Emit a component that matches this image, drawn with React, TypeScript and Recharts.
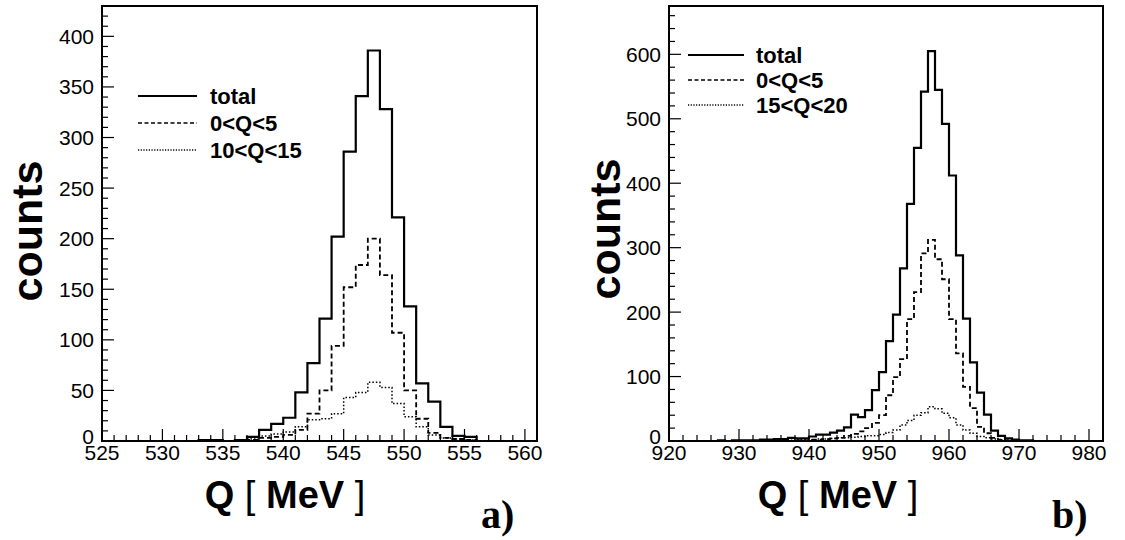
import React from 'react';
import { LineChart, Line, XAxis, YAxis, ReferenceArea } from 'recharts';

// ---------- Panel a) : eta ----------
const etaEdges = [525, 526, 527, 528, 529, 530, 531, 532, 533, 534, 535, 536, 537, 538, 539, 540, 541, 542, 543, 544, 545, 546, 547, 548, 549, 550, 551, 552, 553, 554, 555, 556, 557, 558, 559, 560];
const etaTotal = [0, 0, 0, 0, 0, 0, 0, 0, 1, 1, 0, 1, 4, 11, 17, 23, 48, 77, 121, 202, 286, 341, 386, 328, 221, 133, 57, 39, 14, 5, 4, 0, 0, 0, 0, 0];
const etaLow = [0, 0, 0, 0, 0, 0, 0, 0, 0, 0, 0, 0, 1, 3, 4, 6, 11, 27, 50, 94, 152, 174, 200, 164, 107, 50, 22, 8, 3, 2, 1, 0, 0, 0, 0, 0];
const etaMid = [0, 0, 0, 0, 0, 0, 0, 0, 0, 0, 0, 1, 2, 5, 7, 9, 14, 21, 22, 27, 43, 48, 58, 53, 37, 24, 14, 6, 3, 2, 1, 0, 0, 0, 0, 0];
const etaXTicks = [525, 526, 527, 528, 529, 530, 531, 532, 533, 534, 535, 536, 537, 538, 539, 540, 541, 542, 543, 544, 545, 546, 547, 548, 549, 550, 551, 552, 553, 554, 555, 556, 557, 558, 559, 560];
const etaYTicks = [0, 10, 20, 30, 40, 50, 60, 70, 80, 90, 100, 110, 120, 130, 140, 150, 160, 170, 180, 190, 200, 210, 220, 230, 240, 250, 260, 270, 280, 290, 300, 310, 320, 330, 340, 350, 360, 370, 380, 390, 400, 410, 420];
const etaLegend = ['total', '0<Q<5', '10<Q<15'];

// ---------- Panel b) : eta' ----------
const etapEdges = [920, 921, 922, 923, 924, 925, 926, 927, 928, 929, 930, 931, 932, 933, 934, 935, 936, 937, 938, 939, 940, 941, 942, 943, 944, 945, 946, 947, 948, 949, 950, 951, 952, 953, 954, 955, 956, 957, 958, 959, 960, 961, 962, 963, 964, 965, 966, 967, 968, 969, 970, 971, 972, 973, 974, 975, 976, 977, 978, 979, 980, 981];
const etapTotal = [0, 0, 0, 0, 0, 0, 0, 1, 0, 1, 1, 1, 1, 2, 2, 3, 3, 5, 4, 4, 7, 10, 10, 13, 16, 21, 41, 37, 48, 79, 107, 155, 196, 268, 368, 455, 542, 605, 545, 492, 412, 288, 190, 122, 75, 41, 16, 8, 4, 2, 1, 1, 0, 0, 0, 0, 0, 0, 0, 0, 0, 0];
const etapLow = [0, 0, 0, 0, 0, 0, 0, 0, 0, 0, 0, 0, 0, 0, 0, 0, 0, 0, 1, 1, 2, 2, 3, 4, 5, 8, 11, 15, 20, 28, 40, 71, 99, 127, 189, 231, 291, 312, 282, 251, 189, 136, 84, 51, 22, 12, 5, 2, 1, 0, 0, 0, 0, 0, 0, 0, 0, 0, 0, 0, 0, 0];
const etapMid = [0, 0, 0, 0, 0, 0, 0, 0, 0, 0, 0, 0, 0, 0, 0, 1, 1, 1, 2, 2, 2, 3, 3, 4, 5, 5, 6, 7, 8, 8, 10, 13, 17, 25, 32, 40, 44, 53, 50, 43, 36, 25, 17, 12, 7, 5, 3, 2, 1, 0, 0, 0, 0, 0, 0, 0, 0, 0, 0, 0, 0, 0];
const etapXTicks = [920, 922, 924, 926, 928, 930, 932, 934, 936, 938, 940, 942, 944, 946, 948, 950, 952, 954, 956, 958, 960, 962, 964, 966, 968, 970, 972, 974, 976, 978, 980];
const etapYTicks = [0, 20, 40, 60, 80, 100, 120, 140, 160, 180, 200, 220, 240, 260, 280, 300, 320, 340, 360, 380, 400, 420, 440, 460, 480, 500, 520, 540, 560, 580, 600, 620, 640, 660];
const etapLegend = ['total', '0<Q<5', '15<Q<20'];

const FONT = '"Liberation Sans", Arial, Helvetica, sans-serif';
const SERIF = '"Liberation Serif", "Times New Roman", serif';

function buildRows(edges: number[], total: number[], low: number[], mid: number[]) {
  const rows = edges.map((e, i) => ({ x: e, total: total[i], low: low[i], mid: mid[i] }));
  const n = edges.length - 1;
  rows.push({ x: edges[n] + 1, total: total[n], low: low[n], mid: mid[n] });
  return rows;
}

const makeXTick = (majorEvery: number, margin: number) => (props: any) => {
  const { x, y, payload } = props;
  const v = payload.value;
  const major = v % majorEvery === 0;
  const ay = y - margin;
  return (
    <g>
      <line x1={x} x2={x} y1={ay} y2={ay - (major ? 12 : 6)} stroke="#000" strokeWidth={1.2} />
      {major && (
        <text x={x} y={y} dy="0.71em" textAnchor="middle" fontFamily={FONT} fontSize={21} fill="#000">
          {v}
        </text>
      )}
    </g>
  );
};

const makeYTick = (majorEvery: number, margin: number) => (props: any) => {
  const { x, y, payload } = props;
  const v = payload.value;
  const major = v % majorEvery === 0;
  const ax = x + margin;
  return (
    <g>
      <line x1={ax} x2={ax + (major ? 12 : 6)} y1={y} y2={y} stroke="#000" strokeWidth={1.2} />
      {major && (
        <text x={x} y={v === 0 ? y - 4 : y} dy="0.355em" textAnchor="end" fontFamily={FONT} fontSize={21} fill="#000">
          {v}
        </text>
      )}
    </g>
  );
};

type PanelProps = {
  left: number;
  width: number;
  yAxisWidth: number;
  margin: { top: number; right: number; bottom: number; left: number };
  rows: any[];
  xDomain: [number, number];
  yDomain: [number, number];
  xTicks: number[];
  yTicks: number[];
  xMajor: number;
  yMajor: number;
};

function Panel(p: PanelProps) {
  return (
    <div style={{ position: 'absolute', left: p.left, top: 0 }}>
      <LineChart width={p.width} height={540} data={p.rows} margin={p.margin}>
        <XAxis
          type="number"
          dataKey="x"
          domain={p.xDomain}
          ticks={p.xTicks}
          interval={0}
          allowDataOverflow
          height={99}
          tickSize={0}
          tickMargin={4}
          axisLine={false}
          tickLine={false}
          tick={makeXTick(p.xMajor, 4)}
        />
        <YAxis
          type="number"
          domain={p.yDomain}
          ticks={p.yTicks}
          interval={0}
          allowDataOverflow
          width={p.yAxisWidth}
          tickSize={0}
          tickMargin={8}
          axisLine={false}
          tickLine={false}
          tick={makeYTick(p.yMajor, 8)}
        />
        <Line type="stepAfter" dataKey="mid" stroke="#000" strokeWidth={1.5} strokeDasharray="1.5 2" dot={false} isAnimationActive={false} />
        <Line type="stepAfter" dataKey="low" stroke="#000" strokeWidth={1.8} strokeDasharray="5 3" dot={false} isAnimationActive={false} />
        <Line type="stepAfter" dataKey="total" stroke="#000" strokeWidth={2.2} dot={false} isAnimationActive={false} />
        <ReferenceArea
          x1={p.xDomain[0]}
          x2={p.xDomain[1]}
          y1={p.yDomain[0]}
          y2={p.yDomain[1]}
          fill="none"
          fillOpacity={0}
          stroke="#000"
          strokeWidth={2}
        />
      </LineChart>
    </div>
  );
}

function LegendBlock({ x1, x2, tx, ys, labels }: { x1: number; x2: number; tx: number; ys: number[]; labels: string[] }) {
  const dashes = [undefined, '4 2.5', '1.2 1.5'];
  return (
    <g>
      {labels.map((l, i) => (
        <g key={l}>
          <line x1={x1} x2={x2} y1={ys[i]} y2={ys[i]} stroke="#000" strokeWidth={i === 0 ? 1.8 : 1.4} strokeDasharray={dashes[i]} />
          <text x={tx} y={ys[i]} dy="0.36em" fontFamily={FONT} fontWeight="bold" fontSize={22} fill="#000">
            {l}
          </text>
        </g>
      ))}
    </g>
  );
}

function XTitle({ cx }: { cx: number }) {
  return (
    <text x={cx} y={508} textAnchor="middle" fontFamily={FONT} fontSize={38} fill="#000">
      <tspan fontWeight="bold">Q</tspan>
      <tspan> [ </tspan>
      <tspan fontWeight="bold">MeV</tspan>
      <tspan> ]</tspan>
    </text>
  );
}

export default function App() {
  const rowsA = buildRows(etaEdges, etaTotal, etaLow, etaMid);
  const rowsB = buildRows(etapEdges, etapTotal, etapLow, etapMid);
  return (
    <div style={{ position: 'absolute', left: 0, top: 0, width: 1125, height: 540, background: '#fff', overflow: 'hidden' }}>
      <Panel
        left={0}
        width={560}
        yAxisWidth={102}
        margin={{ top: 6, right: 23, bottom: 0, left: 0 }}
        rows={rowsA}
        xDomain={[525, 561]}
        yDomain={[0, 430]}
        xTicks={etaXTicks}
        yTicks={etaYTicks}
        xMajor={5}
        yMajor={50}
      />
      <Panel
        left={560}
        width={565}
        yAxisWidth={109}
        margin={{ top: 6, right: 22, bottom: 0, left: 0 }}
        rows={rowsB}
        xDomain={[920, 982]}
        yDomain={[0, 675]}
        xTicks={etapXTicks}
        yTicks={etapYTicks}
        xMajor={10}
        yMajor={100}
      />
      <svg width={1125} height={540} style={{ position: 'absolute', left: 0, top: 0, pointerEvents: 'none' }}>
        <text transform="translate(42,231) rotate(-90)" textAnchor="middle" fontFamily={FONT} fontWeight="bold" fontSize={43} fill="#000">
          counts
        </text>
        <text transform="translate(620,229) rotate(-90)" textAnchor="middle" fontFamily={FONT} fontWeight="bold" fontSize={43} fill="#000">
          counts
        </text>
        <XTitle cx={285} />
        <XTitle cx={838} />
        <text x={481} y={528} fontFamily={SERIF} fontWeight="bold" fontSize={40} fill="#000">
          a)
        </text>
        <text x={1052} y={528} fontFamily={SERIF} fontWeight="bold" fontSize={40} fill="#000">
          b)
        </text>
        <LegendBlock x1={138} x2={197} tx={210} ys={[96, 123, 150]} labels={etaLegend} />
        <LegendBlock x1={688} x2={744} tx={756} ys={[55, 80, 105]} labels={etapLegend} />
      </svg>
    </div>
  );
}
